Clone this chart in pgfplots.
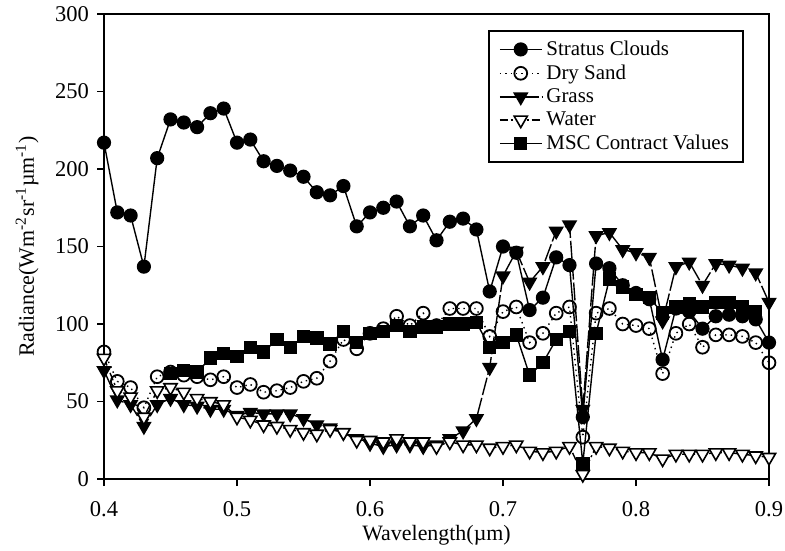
\documentclass[border=0pt]{standalone}
\usepackage{fontspec}
\setmainfont{Liberation Serif}
\usepackage{pgfplots}
\usepackage{pgfplotstable}
\pgfplotsset{compat=1.18}

\pgfplotstableread{
x strat sand grass water
0.40 217 82 70 78
0.41 172 63 51 57
0.42 170 59 48 53
0.43 137 46 34 40
0.44 207 66 48 57
0.45 232 69 52 59
0.46 230 67 48 56
0.47 227 66 47 52
0.48 236 64 45 50
0.49 239 66 45 48
0.50 217 59 41 40
0.51 219 61 43 38
0.52 205 56 42 35
0.53 202 57 42 34
0.54 199 59 42 32
0.55 195 63 39 30
0.56 185 65 35 29
0.57 183 76 33 32
0.58 189 90 30 30
0.59 163 84 26 25
0.60 172 94 23 25
0.61 175 97 21 24
0.62 179 105 22 26
0.63 163 99 22 24
0.64 170 107 21 24
0.65 154 99 22 21
0.66 166 110 26 24
0.67 168 110 31 22
0.68 161 110 39 22
0.69 121 92 72 20
0.70 150 108 131 21
0.71 146 111 147 22
0.72 109 88 127 18
0.73 117 94 137 17
0.74 143 107 160 18
0.75 138 111 164 21
0.76 40 27 45 3
0.77 139 107 157 21
0.78 136 110 159 20
0.79 125 100 148 18
0.80 120 99 146 17
0.81 116 97 143 17
0.82 77 68 102 13
0.83 110 94 137 16
0.84 108 100 140 16
0.85 97 85 125 16
0.86 105 93 139 17
0.87 106 93 138 17
0.88 105 92 136 16
0.89 103 88 133 15
0.90 88 75 114 14
}\data

\pgfplotstableread{
x msc
0.45 68
0.46 70
0.47 69
0.48 78
0.49 81
0.50 79
0.51 85
0.52 82
0.53 90
0.54 85
0.55 92
0.56 91
0.57 87
0.58 95
0.59 88
0.60 94
0.61 95
0.62 99
0.63 95
0.64 98
0.65 98
0.66 100
0.67 100
0.68 101
0.69 85
0.70 88
0.71 93
0.72 67
0.73 75
0.74 90
0.75 95
0.76 10
0.77 94
0.78 129
0.79 124
0.80 119
0.81 117
0.82 107
0.83 111
0.84 113
0.85 111
0.86 114
0.87 114
0.88 111
0.89 108
}\msc

\begin{document}
\begin{tikzpicture}
\begin{axis}[
  scale only axis,
  width=332.5bp, height=232.5bp,
  xmin=0.4, xmax=0.9, ymin=0, ymax=300,
  xtick={0.4,0.5,0.6,0.7,0.8,0.9},
  xticklabels={0.4,0.5,0.6,0.7,0.8,0.9},
  ytick={0,50,100,150,200,250,300},
  tick align=outside, xtick pos=bottom, ytick pos=left,
  major tick length=3.5bp,
  axis line style={line width=1pt},
  every tick/.style={line width=0.8pt, black},
  /pgf/number format/assume math mode=true,
  ticklabel style={font=\fontsize{11.3}{13}\selectfont},
  xticklabel style={yshift=-4bp},
  yticklabel style={xshift=-0.5bp},
  xlabel={Wavelength(µm)},
  ylabel={Radiance(Wm\textsuperscript{-2}sr\textsuperscript{-1}µm\textsuperscript{-1})},
  label style={font=\fontsize{11}{13}\selectfont},
  xlabel style={yshift=2.5bp},
  ylabel style={yshift=1.5bp},
  legend style={at={(0.962,0.966)}, anchor=north east, draw=black, line width=0.9pt,
    font=\fontsize{10.5}{12}\selectfont, row sep=-0.8pt, inner xsep=5pt, inner ysep=3pt},
  legend cell align=left,
  legend image code/.code={\draw[mark repeat=2,mark phase=2] plot coordinates {(0cm,0cm) (0.37cm,0cm) (0.74cm,0cm)};},
  every axis plot/.append style={line width=0.7pt, black},
]
\addplot[solid, mark=*, mark size=3.2bp, mark options={solid, fill=black}] table[x=x, y=strat] {\data};
\addlegendentry{Stratus Clouds}
\addplot[dotted, mark=o, mark size=3.2bp, mark options={solid, fill=white, line width=0.9pt}] table[x=x, y=sand] {\data};
\addlegendentry{Dry Sand}
\addplot[dash pattern=on 9pt off 1.5pt, mark=triangle*, mark size=3.8bp, mark options={solid, fill=black, rotate=180}] table[x=x, y=grass] {\data};
\addlegendentry{Grass}
\addplot[dash pattern=on 4pt off 1.5pt on 1pt off 1.5pt, mark=triangle*, mark size=3.8bp, mark options={solid, fill=white, line width=0.8pt, rotate=180}] table[x=x, y=water] {\data};
\addlegendentry{Water}
\addplot[solid, mark=square*, mark size=3bp, mark options={solid, fill=black}] table[x=x, y=msc] {\msc};
\addlegendentry{MSC Contract Values}
\end{axis}
\pgfresetboundingbox
\path ([shift={(-52bp,-35.5bp)}]current axis.south west) rectangle ([shift={(8bp,7bp)}]current axis.north east);
\end{tikzpicture}
\end{document}
